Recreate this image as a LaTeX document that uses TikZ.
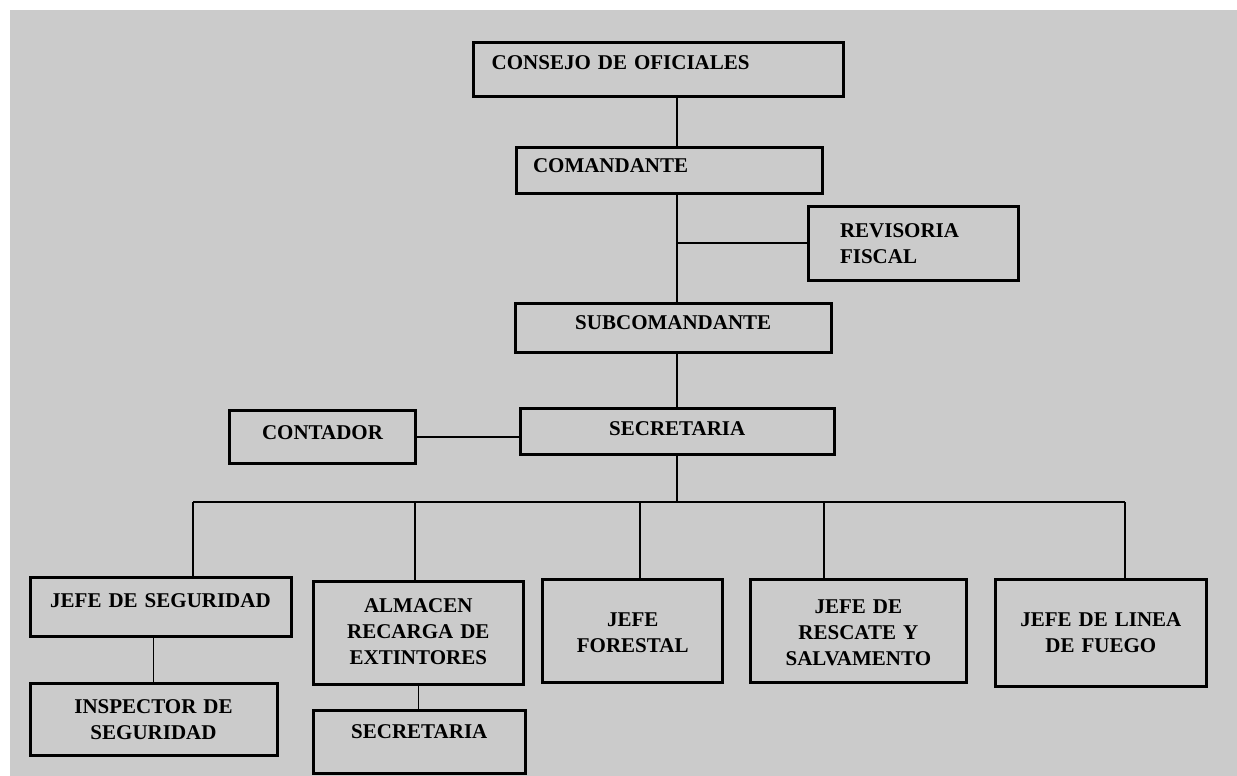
\documentclass[tikz,border=0pt]{standalone}
\usepackage{fontspec}
\setmainfont{Liberation Serif}
\definecolor{fondo}{RGB}{203,203,203}
\tikzset{
  cargo/.style={draw, line width=3pt, outer sep=0pt, anchor=north west, inner ysep=0pt, inner xsep=6pt,
    align=center, font=\fontsize{21}{26}\selectfont\bfseries},
  enlace/.style={line width=1.6pt},
}
\begin{document}
\begin{tikzpicture}[x=1pt, y=-1pt]
    \useasboundingbox (0,0) rectangle (1237,776);
    \fill[fondo] (10,10) rectangle (1237,776);

    % upper boxes
    \node[cargo, align=left, inner xsep=18.7pt, text width=332.6pt, text height=26.5pt, text depth=26.5pt] (consejo) at (473,43) {CONSEJO DE OFICIALES};
    \node[cargo, align=left, inner xsep=17pt, text width=272pt, text height=25.5pt, text depth=20.5pt] (comandante) at (516,147) {COMANDANTE};
    \node[cargo, align=left, inner xsep=32pt, text width=146pt, text height=31.5pt, text depth=43pt] (revisoria) at (808,206) {REVISORIA\\FISCAL};
    \node[cargo, text width=304.5pt, text height=26.5pt, text depth=22.5pt] (subcomandante) at (515,303) {SUBCOMANDANTE};
    \node[cargo, text width=302.5pt, text height=27pt, text depth=19pt] (secretaria) at (520,408) {SECRETARIA};
    \node[cargo, text width=174pt, text height=28.3pt, text depth=24pt] (contador) at (229.5,410.7) {CONTADOR};

    % lower boxes
    \node[cargo, text width=249pt, text height=30pt, text depth=29pt] (jefeseg) at (30,577) {JEFE DE SEGURIDAD};
    \node[cargo, text width=235pt, text height=30.5pt, text depth=41.5pt] (inspector) at (30,683) {INSPECTOR DE\\SEGURIDAD};
    \node[cargo, text width=197.4pt, text height=31pt, text depth=72pt] (almacen) at (313.6,581) {ALMACEN\\RECARGA DE\\EXTINTORES};
    \node[cargo, text width=199.4pt, text height=28.5pt, text depth=34.5pt] (secretaria2) at (313.6,710) {SECRETARIA};
    \node[cargo, text width=168pt, text height=47.5pt, text depth=56.2pt] (forestal) at (542.7,579) {JEFE\\FORESTAL};
    \node[cargo, text width=204.7pt, text height=34pt, text depth=69.7pt] (rescate) at (750,579) {JEFE DE\\RESCATE Y\\SALVAMENTO};
    \node[cargo, text width=199.7pt, text height=47pt, text depth=60pt] (linea) at (995,579) {JEFE DE LINEA\\DE FUEGO};

    % trunk
    \draw[enlace] (secretaria.north |- consejo.south) -- (secretaria.north |- comandante.north);
    \draw[enlace] (secretaria.north |- comandante.south) -- (secretaria.north |- subcomandante.north);
    \draw[enlace] (secretaria.north |- revisoria.west) -- (revisoria.west);
    \draw[enlace] (secretaria.north |- subcomandante.south) -- (secretaria.north);
    \draw[enlace] (contador.east) -- (contador.east -| secretaria.west);

    % bus
    \coordinate (barra-izq) at (193,502);
    \coordinate (barra-der) at (1125,502);
    \draw[enlace] (secretaria.south) -- (secretaria.south |- barra-izq);
    \draw[enlace] (barra-izq) -- (barra-der);
    \foreach \x/\n in {193/jefeseg, 415/almacen, 640/forestal, 824/rescate, 1125/linea}
        \draw[enlace] (\x,502) -- (\x,502 |- \n.north);

    % second level
    \draw[enlace] (jefeseg.south -| inspector.north) -- (inspector.north);
    \draw[enlace] (almacen.south) -- (almacen.south |- secretaria2.north);
\end{tikzpicture}
\end{document}
